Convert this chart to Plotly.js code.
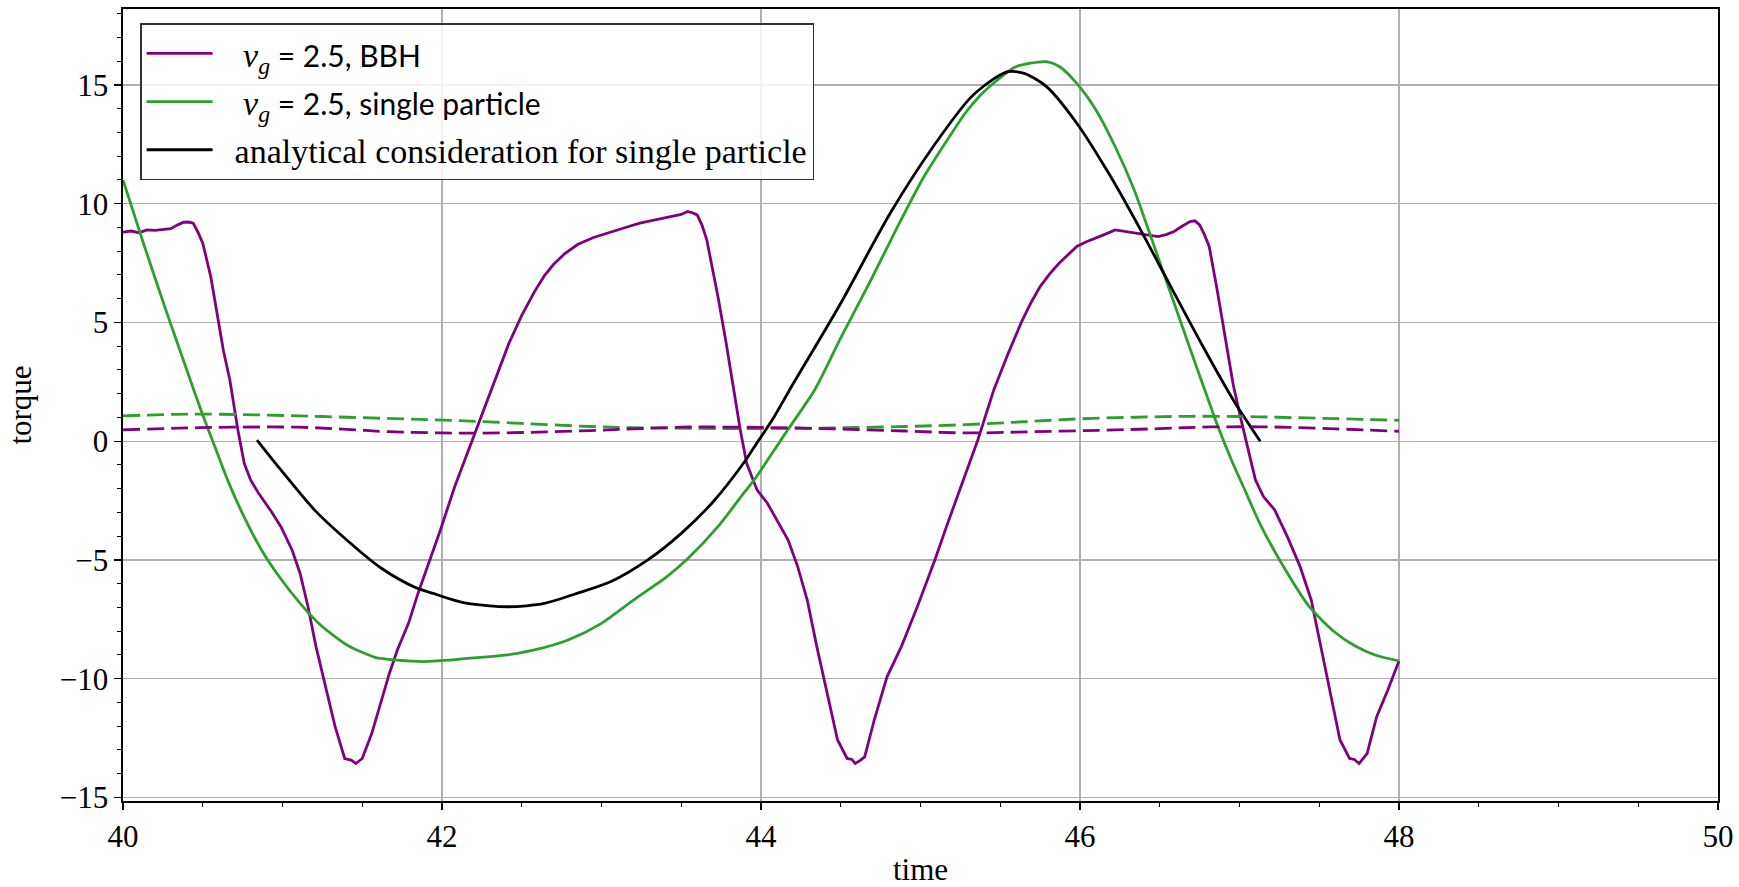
<!DOCTYPE html>
<html>
<head>
<meta charset="utf-8">
<script src="https://cdn.plot.ly/plotly-3.0.1.min.js"></script>
<style>
  html, body { margin: 0; padding: 0; background: #ffffff; }
  #chart { width: 1739px; height: 887px; }
</style>
</head>
<body>
<div id="chart"></div>
<script>
// ---- data ----
const seriesNames = [
  "&nbsp;&nbsp;&nbsp;<i>v<sub>g</sub></i><span style=\"font-family:Lato;font-size:30px\"> = 2.5, BBH</span>",
  "&nbsp;&nbsp;&nbsp;<i>v<sub>g</sub></i><span style=\"font-family:Lato;font-size:30px\"> = 2.5, single particle</span>",
  "&nbsp;&nbsp;analytical consideration for single particle"
];

const bbhTime = [40.00,40.05,40.10,40.15,40.20,40.27,40.30,40.34,40.38,40.41,40.44,40.47,40.50,40.55,40.59,40.63,40.67,40.72,40.76,40.80,40.85,40.93,40.99,41.06,41.11,41.16,41.21,41.26,41.33,41.39,41.43,41.46,41.50,41.56,41.62,41.67,41.72,41.79,41.85,41.91,41.99,42.08,42.16,42.24,42.31,42.42,42.50,42.58,42.64,42.70,42.77,42.85,42.95,43.05,43.15,43.24,43.34,43.44,43.50,43.54,43.57,43.60,43.63,43.66,43.73,43.78,43.83,43.87,43.91,43.975,44.04,44.10,44.17,44.23,44.29,44.35,44.42,44.48,44.54,44.57,44.59,44.62,44.65,44.71,44.79,44.88,44.98,45.09,45.17,45.27,45.36,45.46,45.55,45.63,45.69,45.75,45.81,45.87,45.93,45.98,46.04,46.10,46.16,46.22,46.30,46.38,46.44,46.49,46.54,46.59,46.64,46.69,46.72,46.75,46.78,46.81,46.86,46.91,46.96,47.01,47.05,47.10,47.15,47.22,47.30,47.38,47.45,47.51,47.57,47.63,47.69,47.72,47.75,47.80,47.86,47.93,48.00];
const bbhTorque = [8.80,8.85,8.78,8.90,8.88,8.93,8.95,9.10,9.22,9.23,9.18,8.80,8.34,6.94,5.39,3.80,2.58,0.48,-0.93,-1.63,-2.19,-2.96,-3.60,-4.58,-5.56,-6.97,-8.65,-10.06,-12.02,-13.36,-13.43,-13.57,-13.36,-12.30,-10.90,-9.78,-8.79,-7.67,-6.40,-5.28,-3.74,-1.91,-0.50,0.90,2.17,4.13,5.30,6.30,6.95,7.45,7.90,8.28,8.58,8.80,9.00,9.18,9.32,9.46,9.55,9.67,9.62,9.53,9.10,8.48,6.09,4.20,2.17,0.48,-0.93,-2.05,-2.61,-3.31,-4.16,-5.28,-6.69,-8.65,-10.76,-12.58,-13.36,-13.40,-13.57,-13.45,-13.29,-11.74,-9.92,-8.65,-6.97,-5.00,-3.46,-1.63,0.06,2.17,3.70,4.97,5.80,6.51,7.05,7.50,7.90,8.20,8.40,8.55,8.72,8.90,8.82,8.76,8.68,8.62,8.70,8.83,9.05,9.25,9.28,9.11,8.70,8.20,6.37,4.30,2.40,0.90,-0.22,-1.63,-2.33,-2.89,-4.02,-5.28,-6.69,-8.65,-10.62,-12.58,-13.36,-13.40,-13.57,-13.15,-11.60,-10.48,-9.25];

const spTime = [40.00,40.13,40.27,40.40,40.50,40.58,40.66,40.76,40.87,40.99,41.12,41.24,41.41,41.58,41.72,41.89,42.04,42.16,42.28,42.41,42.58,42.79,43.00,43.20,43.41,43.54,43.73,43.89,43.96,44.08,44.17,44.34,44.50,44.69,44.85,45.01,45.15,45.28,45.38,45.48,45.59,45.69,45.79,45.87,45.98,46.10,46.22,46.34,46.45,46.57,46.69,46.78,46.86,46.95,47.03,47.13,47.26,47.43,47.59,47.72,47.85,48.00];
const spTorque = [11.00,8.30,5.50,3.00,1.10,-0.30,-1.70,-3.20,-4.60,-5.80,-6.90,-7.75,-8.60,-9.10,-9.22,-9.28,-9.22,-9.14,-9.08,-9.00,-8.79,-8.37,-7.67,-6.69,-5.70,-4.95,-3.60,-2.20,-1.60,-0.40,0.50,2.20,4.35,6.80,8.95,11.00,12.50,13.81,14.60,15.20,15.75,15.92,15.98,15.78,15.07,13.95,12.41,10.58,8.50,6.20,3.90,2.20,0.70,-0.80,-2.00,-3.50,-5.10,-6.90,-8.00,-8.60,-9.00,-9.25];

const anTime = [40.84,40.99,41.20,41.41,41.62,41.83,41.95,42.08,42.16,42.28,42.41,42.53,42.64,42.85,43.06,43.29,43.50,43.70,43.89,43.96,44.08,44.18,44.50,44.81,45.08,45.32,45.48,45.55,45.65,45.79,45.98,46.18,46.38,46.57,46.77,46.96,47.13];
const anTorque = [0.05,-1.21,-2.89,-4.20,-5.35,-6.15,-6.42,-6.70,-6.83,-6.92,-6.97,-6.93,-6.83,-6.40,-5.91,-5.00,-3.88,-2.55,-0.93,-0.22,1.00,2.17,5.81,9.60,12.41,14.51,15.35,15.56,15.49,14.93,13.39,11.28,8.90,6.50,4.00,1.75,0.00];

const spMeanTime = [40.0,40.25,40.5,40.9,41.25,41.7,42.09,42.5,42.93,43.2,43.49,43.8,44.24,44.45,44.9,45.29,45.65,45.99,46.35,46.68,47.0,47.24,47.6,48.0];
const spMeanTorque = [1.07,1.12,1.14,1.10,1.04,0.95,0.87,0.75,0.62,0.57,0.55,0.53,0.55,0.56,0.62,0.70,0.82,0.94,1.01,1.05,1.04,1.01,0.95,0.88];

const bbhMeanTime = [40.0,40.35,40.69,41.1,41.4,41.67,42.0,42.23,42.6,42.93,43.2,43.49,43.62,44.0,44.45,44.9,45.29,45.7,46.13,46.5,46.82,47.2,47.6,48.0];
const bbhMeanTorque = [0.48,0.55,0.59,0.59,0.50,0.40,0.35,0.34,0.38,0.45,0.52,0.59,0.60,0.58,0.52,0.43,0.35,0.40,0.46,0.53,0.60,0.60,0.52,0.42];

const xTicks = [40,42,44,46,48,50];
const yTicks = [-15,-10,-5,0,5,10,15];

// ---- styling ----
const PURPLE = "#800080", GREEN = "#2ca02c", BLACK = "#000000";
const SERIF = "Liberation Serif, serif";
const FS = 31;

const traces = [
  {x: bbhTime, y: bbhTorque, name: seriesNames[0], mode: "lines", legendgroup: "a",
   line: {color: PURPLE, width: 2.8}},
  {x: spTime, y: spTorque, name: seriesNames[1], mode: "lines", legendgroup: "b",
   line: {color: GREEN, width: 2.8, shape: "spline", smoothing: 0.7}},
  {x: anTime, y: anTorque, name: seriesNames[2], mode: "lines", legendgroup: "c",
   line: {color: BLACK, width: 2.8, shape: "spline", smoothing: 0.8}},
  {x: spMeanTime, y: spMeanTorque, mode: "lines", showlegend: false,
   line: {color: GREEN, width: 2.8, dash: "17px,7px", shape: "spline"}},
  {x: bbhMeanTime, y: bbhMeanTorque, mode: "lines", showlegend: false,
   line: {color: PURPLE, width: 2.8, dash: "17px,7px", shape: "spline"}}
];

const layout = {
  width: 1739, height: 887,
  margin: {l: 123, r: 21, t: 9, b: 86},
  paper_bgcolor: "#ffffff", plot_bgcolor: "#ffffff",
  font: {family: SERIF, size: FS, color: "#000"},
  showlegend: true,
  legend: {
    x: 0.0107, y: 0.982, xanchor: "left", yanchor: "top",
    bgcolor: "rgba(255,255,255,0.85)", bordercolor: "#333", borderwidth: 1.5,
    font: {family: SERIF, size: 34, color: "#000"},
    tracegroupgap: 1, itemwidth: 66
  },
  xaxis: {
    range: [40, 50], tickvals: xTicks, ticks: "outside", ticklen: 7, tickwidth: 1.3,
    tickcolor: "#000", showline: true, linecolor: "#000", linewidth: 1.6, mirror: true,
    showgrid: true, gridcolor: "#b0b0b0", gridwidth: 1.3, zeroline: false,
    minor: {dtick: 0.5, ticks: "outside", ticklen: 4, tickwidth: 1, tickcolor: "#000", showgrid: false},
    title: {text: "time", font: {family: SERIF, size: FS}, standoff: 7},
    tickfont: {family: SERIF, size: FS}
  },
  yaxis: {
    range: [-15.15, 18.2], tickvals: yTicks, ticks: "outside", ticklen: 7, tickwidth: 1.3,
    tickcolor: "#000", showline: true, linecolor: "#000", linewidth: 1.6, mirror: true,
    showgrid: true, gridcolor: "#b0b0b0", gridwidth: 1.3, zeroline: false,
    minor: {dtick: 1, ticks: "outside", ticklen: 4, tickwidth: 1, tickcolor: "#000", showgrid: false},
    title: {text: "torque", font: {family: SERIF, size: FS}, standoff: 19},
    tickfont: {family: SERIF, size: FS}
  }
};

Plotly.newPlot("chart", traces, layout, {displayModeBar: false, staticPlot: true});
</script>
</body>
</html>
